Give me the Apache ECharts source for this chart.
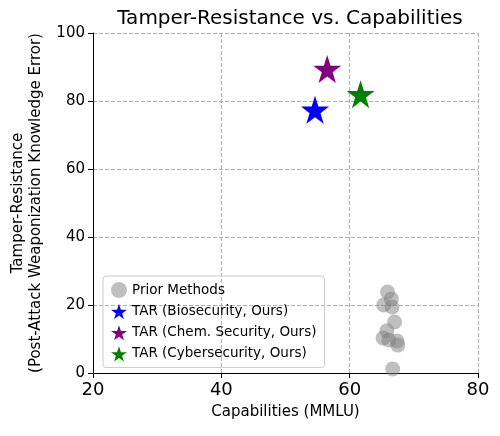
<!DOCTYPE html>
<html><head><meta charset="utf-8">
<script src="https://cdn.jsdelivr.net/npm/echarts@6/dist/echarts.min.js"></script>
<style>html,body{margin:0;background:#fff}#c{width:500px;height:436px}</style>
</head><body><div id="c"></div>
<script>
var priorX = [65.9, 66.5, 65.3, 66.6, 67.0, 65.8, 65.2, 66.1, 67.5, 67.4, 66.7];
var priorY = [23.8, 21.8, 20.0, 19.4, 15.0, 12.4, 10.3, 9.7, 8.2, 9.4, 1.2];
var tarNames = ["TAR (Biosecurity, Ours)", "TAR (Chem. Security, Ours)", "TAR (Cybersecurity, Ours)"];
var tarX = [54.6, 56.5, 61.7];
var tarY = [77.4, 89.4, 82.0];
var tarColors = ["#0000ff", "#800080", "#008000"];
var star = "path://M50,0 L61.8,35.5 L99,35.5 L69,57.5 L80.4,93 L50,71 L19.6,93 L31,57.5 L1,35.5 L38.2,35.5 Z";

var chart = echarts.init(document.getElementById("c"));
var series = [{
  name: "Prior Methods", type: "scatter", symbolSize: 15,
  itemStyle: { color: "#808080", opacity: 0.5 },
  data: priorX.map(function (x, i) { return [x, priorY[i]]; })
}];
tarNames.forEach(function (n, i) {
  series.push({ name: n, type: "scatter", symbol: star, symbolSize: 28,
    itemStyle: { color: tarColors[i], opacity: 1 }, data: [[tarX[i], tarY[i]]] });
});
chart.setOption({
  animation: false,
  title: { text: "Tamper-Resistance vs. Capabilities", left: 285, top: 4, textAlign: "center",
    textStyle: { fontSize: 20, fontWeight: "normal", color: "#000", fontFamily: "DejaVu Sans" } },
  grid: { left: 93, right: 22, top: 33, bottom: 63 },
  legend: {
    orient: "vertical", left: 103, top: 276, itemGap: 6, itemWidth: 16, itemHeight: 16,
    borderColor: "#ccc", borderWidth: 1, borderRadius: 3, padding: [6, 8],
    textStyle: { fontSize: 13.5, color: "#000", fontFamily: "DejaVu Sans" },
    data: [{ name: "Prior Methods", icon: "circle" }].concat(tarNames.map(function (n) { return { name: n, icon: star }; }))
  },
  xAxis: {
    type: "value", min: 20, max: 80, interval: 20,
    name: "Capabilities (MMLU)", nameLocation: "middle", nameGap: 32,
    nameTextStyle: { fontSize: 15, color: "#000", fontFamily: "DejaVu Sans" },
    axisLine: { lineStyle: { color: "#000" } }, axisTick: { show: true, lineStyle: { color: "#000" } },
    axisLabel: { fontSize: 18, color: "#000", fontFamily: "DejaVu Sans" },
    splitLine: { lineStyle: { type: "dashed", color: "#b0b0b0" } }
  },
  yAxis: {
    type: "value", min: 0, max: 100, interval: 20,
    name: "Tamper-Resistance\n(Post-Attack Weaponization Knowledge Error)",
    nameLocation: "middle", nameGap: 42,
    nameTextStyle: { fontSize: 15, color: "#000", fontFamily: "DejaVu Sans", lineHeight: 18 },
    axisLine: { show: true, lineStyle: { color: "#000" } }, axisTick: { show: true, lineStyle: { color: "#000" } },
    axisLabel: { fontSize: 15, color: "#000", fontFamily: "DejaVu Sans" },
    splitLine: { lineStyle: { type: "dashed", color: "#b0b0b0" } }
  },
  series: series
});
</script></body></html>
